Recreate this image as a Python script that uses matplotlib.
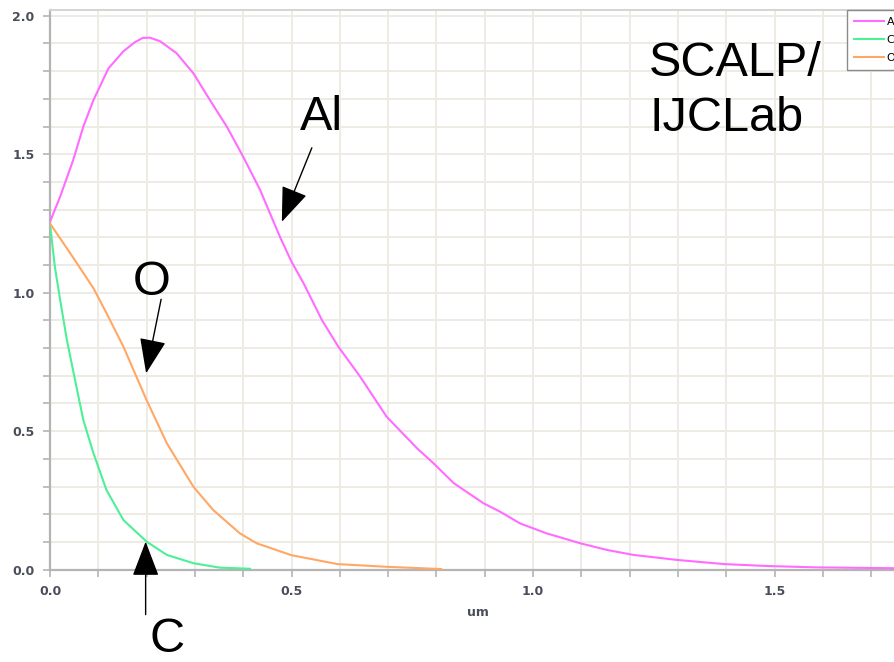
import matplotlib
matplotlib.use("Agg")
import matplotlib.pyplot as plt
from matplotlib.lines import Line2D
from matplotlib.patches import Rectangle
from matplotlib.ticker import MultipleLocator, FormatStrFormatter

# ---- data (depth in um, concentration) ----
al_x = [0, 0.021, 0.048, 0.069, 0.09, 0.121, 0.152, 0.176, 0.192, 0.207, 0.228, 0.262, 0.297,
        0.331, 0.366, 0.400, 0.435, 0.476, 0.50, 0.525, 0.563, 0.597, 0.642, 0.697,
        0.760, 0.794, 0.836, 0.898, 0.932, 0.973, 1.028, 1.098, 1.153, 1.208, 1.298,
        1.395, 1.484, 1.588, 1.746, 1.95]
al_y = [1.256, 1.347, 1.479, 1.60, 1.696, 1.81, 1.872, 1.905, 1.920, 1.921, 1.908, 1.865, 1.792,
        1.696, 1.60, 1.491, 1.371, 1.202, 1.112, 1.034, 0.901, 0.805, 0.697, 0.552,
        0.438, 0.384, 0.312, 0.239, 0.209, 0.167, 0.131, 0.095, 0.071, 0.053, 0.035,
        0.020, 0.013, 0.008, 0.005, 0.003]

o_x = [0, 0.049, 0.090, 0.117, 0.152, 0.200, 0.242, 0.297, 0.338, 0.393, 0.428, 0.50,
       0.595, 0.698, 0.81]
o_y = [1.25, 1.124, 1.016, 0.926, 0.805, 0.612, 0.456, 0.299, 0.215, 0.131, 0.095, 0.052,
       0.020, 0.010, 0.002]

c_x = [0, 0.010, 0.021, 0.035, 0.049, 0.069, 0.090, 0.117, 0.152, 0.200, 0.242, 0.297,
       0.352, 0.414]
c_y = [1.25, 1.094, 0.974, 0.829, 0.709, 0.540, 0.420, 0.287, 0.179, 0.101, 0.053, 0.023,
       0.007, 0.003]

series_labels = ["Al", "C", "O"]
series_colors = ["#ff6cff", "#4cf096", "#ffa866"]

W, H = 894, 662
fig = plt.figure(figsize=(W / 100, H / 100), dpi=100)
fig.patch.set_facecolor("white")

# axes: x=0 at px 50, y=0 at px 569.6, top at px 10; axes run past right edge
ax_left, ax_right = 50, 1000
ax_bot, ax_top = 569.6, 10
ax = fig.add_axes([ax_left / W, 1 - ax_bot / H, (ax_right - ax_left) / W, (ax_bot - ax_top) / H])
px_per_x = 483.0
px_per_y = 276.9
ax.set_xlim(0, (ax_right - ax_left) / px_per_x)
ax.set_ylim(0, (ax_bot - ax_top) / px_per_y)

ax.plot(al_x, al_y, color=series_colors[0], lw=1.5, label=series_labels[0], zorder=3)
ax.plot(c_x, c_y, color=series_colors[1], lw=1.5, label=series_labels[1], zorder=3)
ax.plot(o_x, o_y, color=series_colors[2], lw=1.5, label=series_labels[2], zorder=3)

ax.xaxis.set_major_locator(MultipleLocator(0.5))
ax.xaxis.set_minor_locator(MultipleLocator(0.1))
ax.yaxis.set_major_locator(MultipleLocator(0.5))
ax.yaxis.set_minor_locator(MultipleLocator(0.1))
ax.grid(True, which="both", color="#eeebe4", lw=1.4, zorder=0)
ax.set_axisbelow(True)

ax.spines["right"].set_visible(False)
ax.spines["top"].set_color("#d4d4d4")
ax.spines["top"].set_linewidth(1.4)
for s in ["left", "bottom"]:
    ax.spines[s].set_color("#b4b4b4")
    ax.spines[s].set_linewidth(1.6)

ax.tick_params(which="both", direction="out", length=5, width=1.2, color="#b4b4b4",
               labelsize=9, labelcolor="#4a4e5c", pad=6)
ax.xaxis.set_major_formatter(FormatStrFormatter("%.1f"))
ax.yaxis.set_major_formatter(FormatStrFormatter("%.1f"))
for lab in ax.get_xticklabels() + ax.get_yticklabels():
    lab.set_fontweight("bold")

# legend (runs past the figure's right edge, as in the reference)
handles = [Line2D([], [], color=c, lw=1.5) for c in series_colors]
leg = fig.legend(handles, series_labels, loc="upper left",
                 bbox_to_anchor=(847 / W, 1 - 10 / H), borderaxespad=0, fontsize=8,
                 handlelength=2.7, handletextpad=0.25, labelspacing=0.75,
                 borderpad=0.6, fancybox=False, framealpha=1, edgecolor="#8a8a8a")
leg.get_frame().set_linewidth(1.0)

# x-axis label "um", partly hidden below
fig.text(478 / W, 1 - 612 / H, "um", ha="center", va="center", fontsize=9,
         color="#4a4e5c", fontweight="bold")
fig.add_artist(Rectangle((0, 0), 1, 1 - 617 / H, transform=fig.transFigure,
                         facecolor="white", edgecolor="none", zorder=5))

font = ["Liberation Sans", "DejaVu Sans"]
fig.text(649 / W, 1 - 91 / H, "SCALP/\nIJCLab", ha="left", va="center",
         fontsize=35, family=font, linespacing=1.28, zorder=6)

arrow_kw = dict(arrowstyle="-|>,head_length=1.1,head_width=0.42", color="black",
                lw=1.0, mutation_scale=20, shrinkA=0, shrinkB=0)
# arrows point at data locations on the curves
ax.annotate("", xy=(0.480, 1.256), xytext=(30, 74), textcoords="offset pixels",
            arrowprops=arrow_kw, annotation_clip=False, zorder=6)
ax.annotate("", xy=(0.199, 0.709), xytext=(15, 74), textcoords="offset pixels",
            arrowprops=arrow_kw, annotation_clip=False, zorder=6)
ax.annotate("", xy=(0.198, 0.101), xytext=(0, -73), textcoords="offset pixels",
            arrowprops=arrow_kw, annotation_clip=False, zorder=6)

fig.text(321 / W, 1 - 117 / H, "Al", ha="center", va="center", fontsize=35, family=font, zorder=6)
fig.text(152 / W, 1 - 283 / H, "O", ha="center", va="center", fontsize=35, family=font, zorder=6)
fig.text(167 / W, 1 - 639 / H, "C", ha="center", va="center", fontsize=35, family=font, zorder=6)

fig.savefig("out.png", dpi=100)
